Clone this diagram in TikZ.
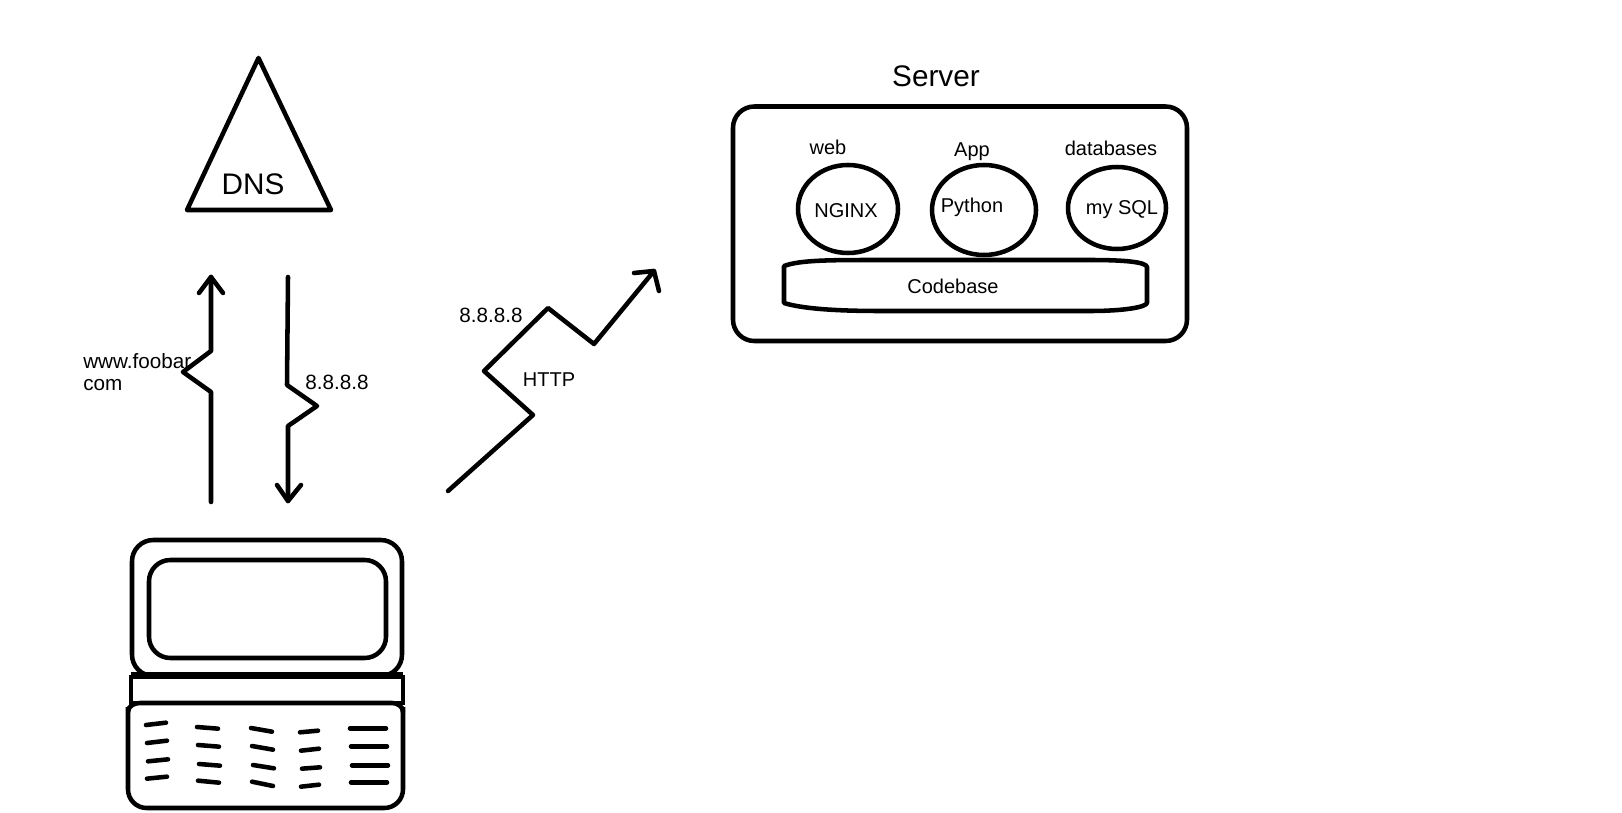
\documentclass[tikz,border=0pt]{standalone}
\usepackage{fontspec}
\setmainfont{Liberation Sans}
\begin{document}
\begin{tikzpicture}[x=0.75pt,y=-0.75pt,
  ink/.style={draw=black,line width=3.4pt,line cap=round,line join=round},
  thick box/.style={draw=black,line width=3.4pt},
  keyline/.style={draw=black,line width=3.4pt,line cap=round},
  lbl/.style={anchor=base,inner sep=0pt,font=\fontsize{15pt}{17pt}\selectfont,text=black},
  lblwide/.style={anchor=base,inner sep=0pt,font=\fontsize{15.5pt}{18pt}\selectfont,text=black},
  lblbig/.style={anchor=base,inner sep=0pt,font=\fontsize{22.3pt}{25pt}\selectfont,text=black}]
\useasboundingbox (0,0) rectangle (1622,813);
\fill[white] (0,0) rectangle (1622,813);

% DNS
\coordinate (dnsA) at (258.5,58);
\coordinate (dnsB) at (331,210);
\coordinate (dnsC) at (187,210);
\draw[ink] (dnsA) -- (dnsB) -- (dnsC) -- cycle;
\node[lblbig] (dns) at (253,194.5) {DNS};

% request arrow
\coordinate (reqS) at (211,502);
\coordinate (reqT) at (211,277);
\draw[ink] (reqS) -- (211,392) -- (183,372) -- (211,351) -- (reqT);
\draw[ink] (199,293) -- (reqT) -- (223,293);
\node[lblwide,anchor=base west] (www) at (83,368) {www.foobar};
\node[lblwide,anchor=base west] (com) at (83,390.5) {com};

% response arrow
\coordinate (resS) at (288,277);
\coordinate (resT) at (288,501);
\draw[ink] (resS) -- (287,385) -- (317,406) -- (288,426) -- (resT);
\draw[ink] (277,485) -- (resT) -- (301,485);
\node[lblwide] (ipa) at (337,389) {8.8.8.8};

% HTTP arrow
\coordinate (htS) at (448,491);
\coordinate (htT) at (654,271);
\draw[ink] (htS) -- (533,415) -- (484,371) -- (548,308) -- (594,344) -- (htT);
\draw[ink] (634,273) -- (htT) -- (659,291);
\node[lblwide] (ipb) at (491,322) {8.8.8.8};
\node[lbl] (http) at (549,386.7) {HTTP};

% Server
\draw[thick box,rounded corners=16] (733,106.5) rectangle (1187,341);
\node[lblbig] (server) at (936,86.7) {Server};
\draw[ink] (848,209) ellipse [x radius=50,y radius=44];
\draw[ink] (984,210) ellipse [x radius=52,y radius=45];
\draw[ink] (1117,208) ellipse [x radius=49,y radius=41];
\node[lbl] (web) at (828,155) {web};
\node[lbl] (app) at (972,156.7) {App};
\node[lbl] (databases) at (1111,155.7) {databases};
\node[lbl] (nginx) at (846,217.7) {NGINX};
\node[lbl] (python) at (972,213) {Python};
\node[lbl] (mysql) at (1122,215) {my SQL};
\draw[ink] (784,266) .. controls (800,260) and (830,260) .. (880,260)
  -- (1090,260) .. controls (1125,260) and (1146,262) .. (1147,267)
  -- (1147,303) .. controls (1146,307) and (1125,311) .. (1090,311)
  -- (880,311) .. controls (830,311) and (800,308) .. (784,303) -- cycle;
\node[lbl] (codebase) at (953,294) {Codebase};

% Laptop
\draw[thick box,rounded corners=16] (132,540) rectangle (402,676);
\draw[thick box,rounded corners=16] (149,560) rectangle (386,658);
\draw[thick box,line width=3.4pt] (131,677) -- (403,677) -- (403,703) -- (131,703) -- cycle;
\draw[draw=black,line width=4pt] (131,675) -- (403,675);
\draw[thick box,rounded corners=14] (128,707) -- (128,808) -- (403,808) -- (403,707);
\draw[thick box] (128,712) to[out=90,in=180] (140,703) -- (392,703) to[out=0,in=90] (403,712);

\begin{scope}[shift={(100,520)},x=0.25pt,y=-0.25pt]
\foreach \a/\b/\c/\d in {
 138/615/198/608, 141/669/201/662, 144/724/204/718, 141/776/201/770,
 291/621/354/626, 294/675/357/680, 297/732/360/737, 294/782/357/788,
 453/624/516/635, 456/678/519/689, 459/735/522/745, 456/785/519/798,
 600/637/654/632, 603/692/657/686, 606/746/660/742, 603/800/657/794,
 750/625/858/625, 753/679/861/679, 756/736/864/736, 753/787/861/787}
 \draw[keyline] (\a,\b) -- (\c,\d);
\end{scope}
\end{tikzpicture}
\end{document}
